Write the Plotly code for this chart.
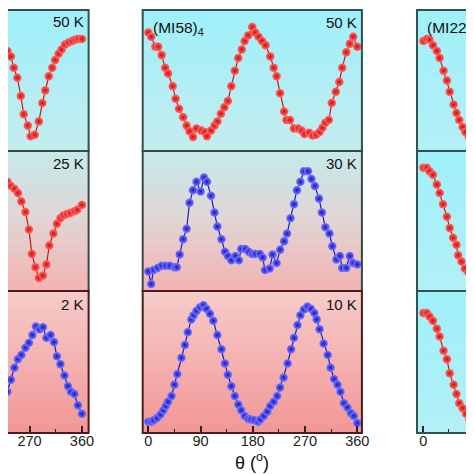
import plotly.graph_objects as go

W = H = 474

# ---------------- data (normalised intensity vs angle, degrees) ----------------
# left column (partially visible)
left_50K_x = [226, 232, 238, 243, 249, 255, 260, 267, 272, 279, 286, 292, 297, 303, 309, 314, 320, 325, 331, 337, 343, 349, 354, 360]
left_50K_y = [0.76, 0.71, 0.67, 0.59, 0.52, 0.39, 0.26, 0.18, 0.105, 0.115, 0.21, 0.34, 0.43, 0.53, 0.59, 0.645, 0.69, 0.72, 0.755, 0.77, 0.78, 0.79, 0.795, 0.795]

left_25K_x = [226, 232, 238, 244, 250, 256, 263, 269, 274, 280, 286, 293, 299, 304, 311, 317, 323, 328, 334, 340, 347, 352, 360]
left_25K_y = [0.80, 0.78, 0.75, 0.73, 0.70, 0.64, 0.565, 0.44, 0.265, 0.17, 0.093, 0.11, 0.19, 0.325, 0.41, 0.48, 0.52, 0.54, 0.55, 0.557, 0.57, 0.58, 0.615]

left_2K_x = [226, 232, 238, 244, 250, 256, 263, 269, 275, 281, 287, 293, 299, 306, 312, 317, 323, 330, 336, 341, 347, 353, 360]
left_2K_y = [0.21, 0.29, 0.375, 0.46, 0.52, 0.55, 0.60, 0.635, 0.69, 0.75, 0.73, 0.745, 0.67, 0.69, 0.64, 0.54, 0.485, 0.405, 0.33, 0.29, 0.275, 0.195, 0.135]

# middle column (MI58)4
mid_50K_x = [0, 5, 12, 17, 23, 29, 34, 42, 47, 53, 60, 66, 71, 77, 83, 91, 97, 101, 108, 114, 119, 125, 131, 137,
             143, 149, 155, 161, 166, 172, 179, 184, 190, 196, 202, 210, 216, 221, 227, 234, 238, 244, 251, 258,
             264, 269, 277, 283, 289, 295, 300, 305, 311, 316, 323, 329, 334, 341, 347, 353, 360]
mid_50K_y = [0.84, 0.81, 0.74, 0.74, 0.68, 0.59, 0.55, 0.46, 0.37, 0.30, 0.24, 0.18, 0.14, 0.10, 0.16, 0.145, 0.135, 0.105, 0.145, 0.18, 0.21, 0.265, 0.31, 0.355,
             0.46, 0.57, 0.66, 0.72, 0.78, 0.82, 0.88, 0.84, 0.81, 0.78, 0.75, 0.67, 0.59, 0.53, 0.41, 0.28, 0.22, 0.22, 0.16, 0.16,
             0.145, 0.12, 0.13, 0.11, 0.115, 0.135, 0.165, 0.20, 0.22, 0.34, 0.42, 0.49, 0.59, 0.70, 0.76, 0.81, 0.74]

mid_30K_x = [0, 5, 9, 16, 23, 30, 37, 45, 49, 54, 60, 66, 71, 77, 83, 90, 96, 101, 108, 114, 119, 126, 132, 137,
             143, 150, 156, 160, 167, 173, 179, 184, 192, 197, 201, 209, 214, 221, 227, 234, 239, 245, 251, 256,
             262, 268, 275, 281, 287, 294, 299, 305, 312, 317, 324, 330, 334, 341, 347, 353, 360]
mid_30K_y = [0.14, 0.05, 0.15, 0.165, 0.18, 0.18, 0.18, 0.17, 0.17, 0.26, 0.37, 0.445, 0.63, 0.72, 0.78, 0.71, 0.81, 0.78, 0.68, 0.56, 0.46, 0.37, 0.28, 0.25,
             0.22, 0.25, 0.22, 0.30, 0.30, 0.28, 0.265, 0.265, 0.265, 0.24, 0.15, 0.16, 0.26, 0.20, 0.295, 0.355, 0.41, 0.52, 0.62, 0.72,
             0.78, 0.855, 0.855, 0.80, 0.75, 0.66, 0.56, 0.455, 0.41, 0.32, 0.225, 0.25, 0.165, 0.165, 0.25, 0.20, 0.19]

mid_10K_x = [0, 5, 9, 15, 21, 26, 30, 34, 40, 45, 50, 57, 63, 68, 74, 78, 83, 89, 95, 100, 106, 112, 119, 126, 132, 137,
             143, 149, 155, 160, 166, 172, 177, 183, 189, 193, 199, 205, 210, 216, 222, 227, 233, 240, 246, 251, 257, 262,
             268, 274, 280, 286, 290, 295, 302, 309, 314, 320, 326, 331, 337, 343, 349, 354, 360]
mid_10K_y = [0.08, 0.08, 0.09, 0.105, 0.13, 0.16, 0.19, 0.22, 0.26, 0.34, 0.415, 0.53, 0.62, 0.71, 0.80, 0.83, 0.86, 0.885, 0.90, 0.875, 0.84, 0.79, 0.69, 0.59, 0.49, 0.41,
             0.33, 0.26, 0.20, 0.16, 0.12, 0.10, 0.095, 0.09, 0.08, 0.095, 0.12, 0.15, 0.19, 0.22, 0.26, 0.32, 0.39, 0.49, 0.59, 0.67, 0.76, 0.83,
             0.87, 0.89, 0.875, 0.845, 0.80, 0.73, 0.63, 0.55, 0.46, 0.38, 0.34, 0.29, 0.21, 0.18, 0.14, 0.12, 0.07]

# right column (MI22)4 (partially visible)
right_50K_x = [0, 6, 11, 17, 24, 29, 36, 42, 47, 54, 59, 64, 70, 75, 81, 87, 93]
right_50K_y = [0.78, 0.795, 0.79, 0.75, 0.71, 0.66, 0.57, 0.50, 0.42, 0.33, 0.27, 0.22, 0.17, 0.135, 0.10, 0.08, 0.07]

right_mid_x = [0, 6, 11, 17, 24, 29, 35, 42, 47, 53, 59, 62, 68, 74, 80, 86, 92]
right_mid_y = [0.88, 0.88, 0.855, 0.83, 0.76, 0.70, 0.62, 0.53, 0.45, 0.38, 0.33, 0.255, 0.21, 0.16, 0.135, 0.11, 0.10]

right_bot_x = [0, 6, 11, 17, 24, 29, 36, 42, 47, 54, 59, 64, 70, 76, 82, 88, 94]
right_bot_y = [0.845, 0.845, 0.82, 0.79, 0.735, 0.68, 0.58, 0.52, 0.42, 0.34, 0.275, 0.21, 0.175, 0.135, 0.095, 0.08, 0.07]

major_ticks = [0, 90, 180, 270, 360]
minor_ticks = [45, 135, 225, 315]

# ---------------- layout geometry (pixels) ----------------
rows_px = [(2, 143), (143, 283), (283, 425)]
cols_px = [(0, 82), (137, 360), (416, 474)]
x_ranges = [[233, 371.5], [-9.7, 368], [-11.4, 90.3]]

def px_x(p):
    return p / W

def px_y(p):
    return 1 - p / H

RED = dict(line="#c41a1a", marker="#ff6a6a", edge="#d80808")
BLUE = dict(line="#1c1ca8", marker="#7a7aff", edge="#1414c8")

series = [
    [(left_50K_x, left_50K_y, RED), (left_25K_x, left_25K_y, RED), (left_2K_x, left_2K_y, BLUE)],
    [(mid_50K_x, mid_50K_y, RED), (mid_30K_x, mid_30K_y, BLUE), (mid_10K_x, mid_10K_y, BLUE)],
    [(right_50K_x, right_50K_y, RED), (right_mid_x, right_mid_y, RED), (right_bot_x, right_bot_y, RED)],
]

CYAN_G = [(158, 240, 250), (196, 236, 238)]
MIX_G = [(198, 234, 234), (226, 212, 212), (242, 178, 176)]
PINK_G = [(246, 204, 202), (242, 150, 150)]
RIGHT_G = [(160, 240, 250), (178, 240, 246)]

bg = [
    [CYAN_G, MIX_G, PINK_G],
    [CYAN_G, MIX_G, PINK_G],
    [RIGHT_G, RIGHT_G, RIGHT_G],
]
border = [
    ["#2f5252", "#3a4848", "#4a1c1c"],
    ["#2f5252", "#3a4848", "#4a1c1c"],
    ["#2f5252", "#2f5252", "#2f5252"],
]

def interp(stops, t):
    n = len(stops) - 1
    seg = min(int(t * n), n - 1)
    lt = t * n - seg
    a, b = stops[seg], stops[seg + 1]
    return "rgb(%d,%d,%d)" % tuple(round(a[i] + (b[i] - a[i]) * lt) for i in range(3))

fig = go.Figure()
shapes = []
layout = {}
FONT = "Liberation Sans, Arial, sans-serif"

idx = 0
for c in range(3):
    for r in range(3):
        idx += 1
        xa = "x" if idx == 1 else "x%d" % idx
        ya = "y" if idx == 1 else "y%d" % idx
        xs, ys, col = series[c][r]
        fig.add_trace(go.Scatter(
            x=xs, y=ys, xaxis=xa, yaxis=ya, mode="lines+markers",
            line=dict(color=col["line"], width=1.2),
            marker=dict(size=8.5, color=col["marker"],
                        gradient=dict(type="radial", color=col["edge"]),
                        line=dict(width=0)),
            showlegend=False, cliponaxis=True, hoverinfo="skip"))
        x0p, x1p = cols_px[c]
        y0p, y1p = rows_px[r]
        bottom = r == 2
        xkey = "xaxis" if idx == 1 else "xaxis%d" % idx
        ykey = "yaxis" if idx == 1 else "yaxis%d" % idx
        layout[xkey] = dict(
            domain=[px_x(x0p), px_x(x1p)], range=x_ranges[c], anchor=ya,
            showgrid=False, zeroline=False, showline=False,
            ticks="inside" if bottom else "", ticklen=7, tickwidth=1.5, tickcolor="#3a1a1a",
            tickmode="array", tickvals=major_ticks,
            showticklabels=bottom, ticklabelstandoff=-3, ticklabeloverflow="allow",
            tickfont=dict(family=FONT, size=14.5, color="#222"),
            minor=dict(tickmode="array", tickvals=minor_ticks, ticks="inside" if bottom else "",
                       ticklen=4, tickwidth=1.2, tickcolor="#3a1a1a"),
        )
        layout[ykey] = dict(
            domain=[px_y(y1p), px_y(y0p)], range=[0, 1], anchor=xa,
            visible=False, showgrid=False, zeroline=False)
        # gradient background strips
        stops = bg[c][r]
        N = 36
        for k in range(N):
            t = (k + 0.5) / N
            ya0 = y0p + (y1p - y0p) * k / N
            ya1 = y0p + (y1p - y0p) * (k + 1) / N + 0.6
            shapes.append(dict(type="rect", xref="paper", yref="paper",
                               x0=px_x(x0p), x1=px_x(x1p), y0=px_y(ya1), y1=px_y(ya0),
                               fillcolor=interp(stops, t), line=dict(width=0), layer="below"))

# borders (drawn above)
for c in range(3):
    for r in range(3):
        x0p, x1p = cols_px[c]
        if c == 0:
            x0p = -6
        if c == 2:
            x1p = 482
        y0p, y1p = rows_px[r]
        shapes.append(dict(type="rect", xref="paper", yref="paper",
                           x0=px_x(x0p), x1=px_x(x1p), y0=px_y(y1p), y1=px_y(y0p),
                           fillcolor="rgba(0,0,0,0)",
                           line=dict(color=border[c][r], width=2), layer="above"))

def ann(text, xp, yp, xanchor, size=15, yanchor="middle"):
    return dict(text=text, x=px_x(xp), y=px_y(yp), xref="paper", yref="paper",
                xanchor=xanchor, yanchor=yanchor, showarrow=False,
                font=dict(family=FONT, size=size, color="#111"))

annotations = [
    ann("50 K", 79, 13, "right"),
    ann("25 K", 79, 155, "right"),
    ann("2 K", 79, 296, "right"),
    ann("(MI58)<sub>4</sub>", 145, 20, "left", 15.5),
    ann("50 K", 357, 14.5, "right"),
    ann("30 K", 357, 155, "right"),
    ann("10 K", 357, 296.5, "right"),
    ann("(MI22)<sub>4</sub>", 424, 20, "left", 15.5),
    ann("θ (<sup>o</sup>)", 248, 453, "center", 18),
]

fig.update_layout(
    width=W, height=H, autosize=False,
    margin=dict(l=0, r=0, t=0, b=0),
    paper_bgcolor="white", plot_bgcolor="rgba(0,0,0,0)",
    shapes=shapes, annotations=annotations,
    **layout,
)

fig.write_html("out.html")
